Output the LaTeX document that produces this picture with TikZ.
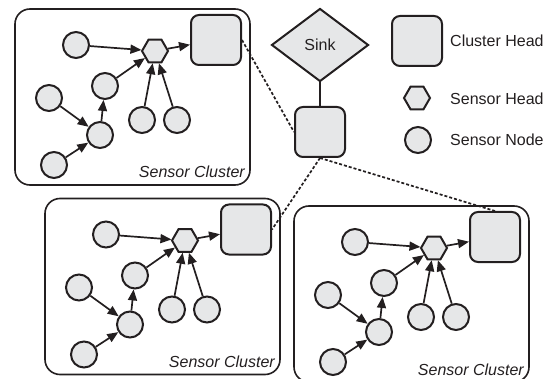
\documentclass[tikz,border=0pt]{standalone}
\usepackage{fontspec}
\setmainfont{Liberation Sans}
\usetikzlibrary{arrows.meta,shapes.geometric}
\definecolor{nfill}{RGB}{230,231,232}
\definecolor{ink}{RGB}{35,31,32}
\begin{document}
\begin{tikzpicture}[x=1pt,y=-1pt,
  every node/.style={font=\fontsize{16}{19}\selectfont, text=ink},
  snode/.style={circle, draw=ink, fill=nfill, line width=2pt, minimum size=26pt, inner sep=0pt},
  shead/.style={regular polygon, regular polygon sides=6, draw=ink, fill=nfill, line width=2pt, minimum size=26pt, inner sep=0pt},
  chead/.style={rectangle, rounded corners=8pt, draw=ink, fill=nfill, line width=2pt, minimum width=50pt, minimum height=50pt, inner sep=0pt},
  sinkn/.style={diamond, draw=ink, fill=nfill, line width=2pt, minimum width=97pt, minimum height=73pt, inner sep=0pt},
  clbox/.style={rectangle, draw=ink, rounded corners=15pt, line width=1.6pt, minimum width=235pt, minimum height=176pt, inner sep=0pt},
  arr/.style={-{Triangle[length=11pt,width=9pt]}, line width=1.7pt, draw=ink},
  link/.style={line width=1.7pt, draw=ink, dash pattern=on 3pt off 2pt},
  lbl/.style={font=\fontsize{16}{19}\selectfont\itshape, anchor=base east, inner sep=0pt},
  lgt/.style={anchor=west, inner sep=0pt}
]
\useasboundingbox (0,0) rectangle (556,379);

\foreach \c/\dx/\dy in {1/0/0, 2/30/189.5, 3/279/197} {
  \begin{scope}[shift={(\dx,\dy)}]
    \node[clbox] (box\c) at (132.5,97) {};
    \node[lbl] (lbl\c) at (245,178) {Sensor Cluster};
    \node[snode] (a\c) at (76,45) {};
    \node[snode] (b\c) at (105,86) {};
    \node[snode] (cc\c) at (49,98) {};
    \node[snode] (d\c) at (100,135) {};
    \node[snode] (e\c) at (54,165) {};
    \node[snode] (f\c) at (142,120) {};
    \node[snode] (g\c) at (177,120) {};
    \node[shead] (h\c) at (155,51) {};
    \node[chead] (ch\c) at (216,40) {};
    \draw[arr] (a\c) -- (h\c);
    \draw[arr] (b\c) -- (h\c);
    \draw[arr] (cc\c) -- (d\c);
    \draw[arr] (e\c) -- (d\c);
    \draw[arr] (d\c) -- (b\c);
    \draw[arr] (f\c) -- (h\c);
    \draw[arr] (g\c) -- (h\c);
    \draw[arr] (h\c) -- (ch\c);
  \end{scope}
}

\node[sinkn] (sink) at (320,45) {Sink};
\node[chead] (relay) at (320,132) {};
\draw[line width=1.7pt, draw=ink] (sink.south) -- (relay.north);

\draw[link] (ch1.east) -- (relay.west);
\draw[link] (relay.south) -- (ch2.east);
\draw[link] (relay.south) -- (ch3.north);

\node[chead] (lgch) at (417,41) {};
\node[lgt] (lgcht) at (450,41) {Cluster Head};
\node[shead] (lgsh) at (417,98) {};
\node[lgt] (lgsht) at (450,99) {Sensor Head};
\node[snode] (lgsn) at (418,140) {};
\node[lgt] (lgsnt) at (450,140) {Sensor Node};
\end{tikzpicture}
\end{document}
